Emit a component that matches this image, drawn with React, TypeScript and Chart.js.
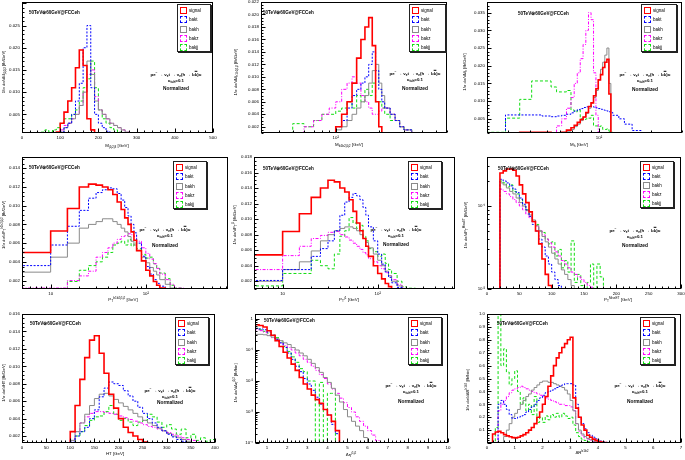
import React, { useEffect, useRef } from 'react';
import { Chart, registerables } from 'chart.js';

Chart.register(...registerables);

// ------------------------------------------------------------------ data
const SERIES_NAMES = ['signal', 'bakt', 'bakh', 'bakz', 'bakjj'];

// Panel 1 : M_{j1j2j3}
const mjjjEdges = [40, 50, 60, 70, 80, 90, 100, 110, 120, 130, 140, 150, 160, 170, 180, 190, 200, 210, 220, 230, 240, 250, 260, 270, 280, 290, 300];
const mjjjSignal = [0, 0, 0, 0, 0, 0.001, 0.003, 0.0055, 0.008, 0.011, 0.0155, 0.0195, 0.016, 0.004, 0.0015, 0.0008, 0.0003, 0, 0, 0, 0, 0, 0, 0, 0, 0];
const mjjjBakt = [0, 0, 0, 0, 0, 0.0003, 0.001, 0.002, 0.003, 0.005, 0.008, 0.012, 0.02, 0.025, 0.011, 0.005, 0.003, 0.002, 0.0012, 0.0007, 0.0003, 0, 0, 0, 0, 0];
const mjjjBakh = [0, 0, 0, 0, 0, 0.0005, 0.001, 0.002, 0.003, 0.004, 0.005, 0.007, 0.01, 0.017, 0.014, 0.008, 0.006, 0.005, 0.004, 0.003, 0.0025, 0.002, 0.0015, 0.001, 0.0007, 0.0004];
const mjjjBakz = [0, 0, 0, 0, 0, 0.0005, 0.0015, 0.0025, 0.003, 0.004, 0.005, 0.007, 0.01, 0.014, 0.015, 0.009, 0.006, 0.005, 0.004, 0.003, 0.0025, 0.002, 0.0015, 0.001, 0.0006, 0.0003];
const mjjjBakjj = [0, 0.001, 0.0015, 0.001, 0.0015, 0.002, 0.003, 0.004, 0.004, 0.005, 0.006, 0.008, 0.011, 0.013, 0.017, 0.011, 0.006, 0.004, 0.003, 0.002, 0.0015, 0.001, 0.0008, 0.0005, 0.0003, 0];

// Panel 2 : M_{b1b2j1j2}
const mbbjjEdges = [40, 50, 60, 70, 80, 90, 100, 110, 120, 130, 140, 150, 160, 170, 180, 190, 200, 210, 220, 240, 260, 280, 300, 340, 380, 420];
const mbbjjSignal = [0, 0, 0, 0, 0, 0.001, 0.002, 0.004, 0.006, 0.009, 0.013, 0.016, 0.018, 0.0195, 0.015, 0.006, 0.002, 0.0005, 0, 0, 0, 0, 0, 0, 0];
const mbbjjBakt = [0, 0, 0, 0, 0, 0.001, 0.002, 0.003, 0.005, 0.007, 0.008, 0.009, 0.01, 0.012, 0.014, 0.011, 0.008, 0.006, 0.005, 0.004, 0.003, 0.002, 0.0015, 0.001, 0.0005];
const mbbjjBakh = [0, 0, 0, 0, 0, 0.0008, 0.0015, 0.002, 0.003, 0.004, 0.005, 0.006, 0.007, 0.009, 0.011, 0.012, 0.009, 0.007, 0.005, 0.004, 0.003, 0.002, 0.0015, 0.001, 0.0005];
const mbbjjBakz = [0, 0.001, 0.002, 0.003, 0.004, 0.005, 0.006, 0.008, 0.009, 0.01, 0.009, 0.007, 0.006, 0.005, 0.004, 0.004, 0.0045, 0.005, 0.005, 0.004, 0.003, 0.002, 0.0015, 0.001, 0.0005];
const mbbjjBakjj = [0, 0.0025, 0.002, 0.003, 0.004, 0.004, 0.0045, 0.005, 0.006, 0.005, 0.007, 0.006, 0.008, 0.007, 0.009, 0.006, 0.006, 0.005, 0.004, 0.003, 0.003, 0.002, 0.0015, 0.001, 0.0005];

// Panel 3 : M_h
const mhEdges = [23, 29, 35, 41, 47, 53, 57, 61, 65, 69, 72, 75, 78, 81, 84, 87, 90, 93, 96, 99, 102, 105, 108, 111, 114, 117, 120, 130, 140, 155, 175, 200, 250];
const mhSignal = [0, 0, 0.0012, 0.0012, 0.0012, 0.001, 0.001, 0.0012, 0.0018, 0.0025, 0.0032, 0.004, 0.0048, 0.0055, 0.0068, 0.0085, 0.0095, 0.0115, 0.0135, 0.016, 0.0175, 0.0195, 0.021, 0.0218, 0.012, 0, 0, 0, 0, 0, 0, 0];
const mhBakt = [0, 0.0061, 0.0061, 0.0061, 0.0058, 0.0056, 0.0058, 0.006, 0.0063, 0.0067, 0.0072, 0.0076, 0.0079, 0.0082, 0.0084, 0.0085, 0.0085, 0.0083, 0.0081, 0.0079, 0.0077, 0.0075, 0.0074, 0.0072, 0.007, 0.0068, 0.006, 0.005, 0.0035, 0.0017, 0, 0];
const mhBakh = [0, 0, 0.001, 0.001, 0.001, 0.0008, 0.001, 0.0012, 0.0015, 0.002, 0.0028, 0.0035, 0.0045, 0.0055, 0.0065, 0.008, 0.0095, 0.011, 0.013, 0.016, 0.019, 0.021, 0.023, 0.025, 0.015, 0, 0, 0, 0, 0, 0, 0];
const mhBakz = [0, 0, 0, 0, 0, 0.001, 0.003, 0.005, 0.008, 0.011, 0.015, 0.018, 0.022, 0.026, 0.03, 0.035, 0.033, 0.018, 0.006, 0.001, 0, 0, 0, 0, 0, 0, 0, 0, 0, 0, 0, 0];
const mhBakjj = [0.0012, 0.0052, 0.0105, 0.0157, 0.0157, 0.014, 0.0126, 0.0126, 0.013, 0.0075, 0.007, 0.0075, 0.005, 0.0048, 0.005, 0.0052, 0.006, 0.003, 0.003, 0.0028, 0.003, 0.002, 0.002, 0.0022, 0.0015, 0.0012, 0.001, 0, 0, 0, 0, 0];

// Panels 4 and 5 : transverse momenta (shared binning)
const ptEdges = [5, 10, 15, 20, 25, 30, 35, 40, 45, 50, 55, 60, 65, 70, 75, 80, 90, 100, 110, 120, 130, 140, 160, 180, 200, 250, 300];
const ptbbjjSignal = [0.005, 0.0073, 0.0097, 0.012, 0.0123, 0.0122, 0.012, 0.0117, 0.0112, 0.0104, 0.0096, 0.0087, 0.008, 0.0072, 0.0063, 0.0052, 0.0041, 0.0031, 0.0025, 0.0019, 0.0015, 0.0012, 0, 0, 0, 0];
const ptbbjjBakt = [0.0036, 0.0058, 0.0078, 0.0095, 0.0108, 0.0114, 0.0117, 0.0119, 0.0118, 0.0113, 0.0106, 0.0098, 0.0089, 0.008, 0.0071, 0.006, 0.0046, 0.0035, 0.0027, 0.0021, 0.0017, 0.0014, 0, 0, 0, 0];
const ptbbjjBakh = [0.0029, 0.0045, 0.006, 0.0076, 0.008, 0.0083, 0.0086, 0.0086, 0.0083, 0.008, 0.0076, 0.0072, 0.0067, 0.0062, 0.0058, 0.0052, 0.0045, 0.0039, 0.0034, 0.003, 0.0026, 0.0021, 0.0016, 0.0012, 0, 0];
const ptbbjjBakz = [0.0012, 0.0012, 0.002, 0.0025, 0.003, 0.0045, 0.005, 0.0055, 0.006, 0.0064, 0.0067, 0.0068, 0.007, 0.0069, 0.0067, 0.0062, 0.0055, 0.0049, 0.0043, 0.0038, 0.0033, 0.0027, 0.0021, 0.0016, 0.0012, 0];
const ptbbjjBakjj = [0.0011, 0.0011, 0.0019, 0.0031, 0.0036, 0.004, 0.0045, 0.005, 0.0058, 0.006, 0.0062, 0.0058, 0.0064, 0.0057, 0.006, 0.0054, 0.0048, 0.0044, 0.0045, 0.0038, 0.0033, 0.0028, 0.0022, 0.0015, 0.0012, 0];

const ptj1Signal = [0.0054, 0.0084, 0.0107, 0.0128, 0.014, 0.015, 0.0148, 0.014, 0.0135, 0.0125, 0.011, 0.0095, 0.0085, 0.0075, 0.0065, 0.0052, 0.004, 0.003, 0.0023, 0.0017, 0.0013, 0.001, 0, 0, 0, 0];
const ptj1Bakt = [0.0021, 0.0035, 0.0035, 0.0052, 0.0062, 0.0072, 0.0085, 0.0105, 0.0122, 0.0128, 0.0133, 0.013, 0.0125, 0.0115, 0.0105, 0.009, 0.0072, 0.0055, 0.0042, 0.0032, 0.0025, 0.0018, 0.0012, 0, 0, 0];
const ptj1Bakh = [0.002, 0.0035, 0.0045, 0.0059, 0.0072, 0.008, 0.0085, 0.0088, 0.009, 0.009, 0.0088, 0.0085, 0.008, 0.0075, 0.007, 0.0063, 0.0055, 0.0047, 0.004, 0.0033, 0.0027, 0.002, 0.0014, 0.001, 0, 0];
const ptj1Bakz = [0.0035, 0.0053, 0.0065, 0.0075, 0.0079, 0.0083, 0.0084, 0.008, 0.0077, 0.0073, 0.0069, 0.0065, 0.0061, 0.0057, 0.0054, 0.0049, 0.0045, 0.004, 0.0036, 0.0031, 0.0027, 0.0022, 0.0016, 0.0011, 0, 0];
const ptj1Bakjj = [0.0014, 0.003, 0.003, 0.0047, 0.004, 0.0036, 0.0055, 0.0078, 0.0085, 0.0102, 0.0095, 0.0088, 0.0092, 0.0078, 0.0072, 0.0062, 0.0058, 0.0052, 0.0055, 0.0043, 0.0035, 0.003, 0.002, 0.0013, 0.0011, 0];

// Panel 6 : missing transverse energy
const ptmissEdges = [20, 25, 30, 35, 40, 45, 50, 55, 60, 65, 70, 75, 80, 85, 90, 95, 100, 105, 110, 115, 120, 125, 130, 135, 140, 145, 150, 155, 160, 165, 170, 175, 180, 185];
const ptmissSignal = [0.25, 0.265, 0.28, 0.28, 0.27, 0.23, 0.18, 0.14, 0.11, 0.085, 0.065, 0.05, 0.035, 0.023, 0.015, 0.011, 0, 0, 0, 0, 0, 0, 0, 0, 0, 0, 0, 0, 0, 0, 0, 0, 0];
const ptmissBakt = [0.21, 0.2, 0.19, 0.175, 0.16, 0.145, 0.125, 0.105, 0.09, 0.075, 0.06, 0.05, 0.04, 0.032, 0.025, 0.02, 0.016, 0.013, 0.011, 0.01, 0, 0, 0, 0, 0, 0, 0, 0, 0, 0, 0, 0, 0];
const ptmissBakh = [0.19, 0.18, 0.165, 0.15, 0.14, 0.125, 0.11, 0.1, 0.088, 0.078, 0.068, 0.058, 0.05, 0.043, 0.037, 0.032, 0.027, 0.023, 0.02, 0.017, 0.015, 0.013, 0.011, 0.01, 0.009, 0, 0, 0, 0, 0, 0, 0, 0];
const ptmissBakz = [0.16, 0.15, 0.14, 0.13, 0.12, 0.11, 0.1, 0.09, 0.08, 0.072, 0.064, 0.057, 0.051, 0.045, 0.04, 0.036, 0.032, 0.028, 0.025, 0.022, 0.02, 0.018, 0.016, 0.015, 0.014, 0.013, 0.012, 0.011, 0.0105, 0.01, 0.01, 0.01, 0];
const ptmissBakjj = [0.2, 0.19, 0.17, 0.18, 0.15, 0.14, 0.12, 0.1, 0.09, 0.08, 0.065, 0.06, 0.05, 0.048, 0.04, 0.035, 0.037, 0.025, 0.03, 0.018, 0.022, 0.016, 0.038, 0.012, 0.015, 0.011, 0.01, 0.012, 0.02, 0.01, 0.02, 0.014, 0];

// Panel 7 : HT
const htEdges = [90, 100, 110, 120, 130, 140, 150, 160, 170, 180, 190, 200, 210, 220, 230, 240, 250, 260, 270, 280, 290, 300, 310, 320, 330, 340, 350, 360, 370, 380, 390, 400];
const htSignal = [0.0012, 0.0025, 0.0055, 0.0085, 0.011, 0.013, 0.0135, 0.0115, 0.0092, 0.0068, 0.0052, 0.004, 0.003, 0.0024, 0.002, 0.0016, 0.0013, 0.0011, 0, 0, 0, 0, 0, 0, 0, 0, 0, 0, 0, 0, 0];
const htBakt = [0, 0.0013, 0.002, 0.0025, 0.003, 0.004, 0.005, 0.0065, 0.0075, 0.0082, 0.008, 0.0078, 0.0072, 0.0066, 0.006, 0.0053, 0.0046, 0.004, 0.0035, 0.003, 0.0026, 0.0022, 0.0019, 0.0016, 0.0014, 0.0012, 0, 0, 0, 0, 0];
const htBakh = [0, 0.0015, 0.0025, 0.0035, 0.0045, 0.0055, 0.0063, 0.0068, 0.0069, 0.0066, 0.0062, 0.0058, 0.0054, 0.005, 0.0046, 0.0042, 0.0038, 0.0035, 0.0032, 0.0029, 0.0026, 0.0023, 0.002, 0.0018, 0.0016, 0.0014, 0.0012, 0, 0, 0, 0];
const htBakz = [0, 0.0015, 0.0025, 0.0035, 0.0042, 0.0046, 0.0048, 0.0048, 0.0047, 0.0046, 0.0045, 0.0043, 0.0041, 0.0039, 0.0037, 0.0035, 0.0033, 0.0031, 0.003, 0.0028, 0.0026, 0.0024, 0.0022, 0.002, 0.0018, 0.0016, 0.0015, 0.0013, 0.0012, 0.0012, 0.0011];
const htBakjj = [0, 0.0012, 0.002, 0.0025, 0.0032, 0.0038, 0.0042, 0.0043, 0.0048, 0.0055, 0.0045, 0.0038, 0.004, 0.0036, 0.0032, 0.0036, 0.0038, 0.0045, 0.0042, 0.0036, 0.003, 0.0033, 0.0028, 0.0022, 0.0028, 0.0018, 0.0022, 0.0015, 0.0018, 0.0014, 0.0016];

// Panel 8 : Delta eta
const detaEdges = [0.4, 0.6, 0.8, 1.0, 1.2, 1.4, 1.6, 1.8, 2.0, 2.2, 2.4, 2.6, 2.8, 3.0, 3.2, 3.4, 3.6, 3.8, 4.0, 4.2, 4.4, 4.6, 4.8, 5.0, 5.2, 5.4, 5.6, 5.8, 6.0, 6.2, 6.4, 6.6, 6.8];
const detaSignal = [0.65, 0.62, 0.55, 0.42, 0.3, 0.2, 0.13, 0.085, 0.055, 0.035, 0.022, 0.013, 0.008, 0.0055, 0.0035, 0.0025, 0.0019, 0.0012, 0.0008, 0.0005, 0.00025, 0, 0, 0, 0, 0, 0, 0, 0, 0, 0, 0];
const detaBakt = [0.5, 0.48, 0.45, 0.38, 0.3, 0.22, 0.17, 0.12, 0.08, 0.05, 0.03, 0.02, 0.012, 0.008, 0.005, 0.003, 0.0018, 0.0012, 0.0008, 0.0004, 0.0002, 0, 0, 0, 0, 0, 0, 0, 0, 0, 0, 0];
const detaBakh = [0.32, 0.32, 0.31, 0.29, 0.26, 0.23, 0.2, 0.17, 0.15, 0.12, 0.1, 0.08, 0.065, 0.05, 0.037, 0.027, 0.019, 0.013, 0.009, 0.0058, 0.0035, 0.0021, 0.0012, 0.0007, 0.0005, 0.00035, 0.00025, 0.00015, 0, 0, 0, 0];
const detaBakz = [0.45, 0.42, 0.38, 0.3, 0.25, 0.2, 0.17, 0.14, 0.12, 0.1, 0.08, 0.065, 0.05, 0.04, 0.03, 0.022, 0.016, 0.012, 0.008, 0.0055, 0.004, 0.0028, 0.002, 0.0014, 0.001, 0.0007, 0.0005, 0.00035, 0.00025, 0.00018, 0.00012, 0];
const detaBakjj = [0.5, 0.45, 0.4, 0.35, 0.3, 0.25, 0.18, 0.13, 0.09, 0.06, 0.04, 0.025, 0.02, 0.01, 0.01, 0, 0.009, 0, 0.004, 0.004, 0, 0, 0, 0, 0, 0, 0, 0, 0, 0, 0, 0];

// Panel 9 : Delta R
const drEdges = [0.2, 0.3, 0.4, 0.5, 0.6, 0.7, 0.8, 0.9, 1.0, 1.1, 1.2, 1.3, 1.4, 1.5, 1.6, 1.7, 1.8, 1.9, 2.0, 2.1, 2.2, 2.3, 2.4, 2.5, 2.6, 2.7, 2.8, 2.9, 3.0, 3.1, 3.2, 3.3, 3.4, 3.5, 3.6, 3.7, 3.8, 3.9, 4.0, 4.1, 4.2, 4.3, 4.4, 4.5];
const drSignal = [0.07, 0.085, 0.09, 0.08, 0.065, 0.055, 0.048, 0.042, 0.04, 0.045, 0.055, 0.065, 0.08, 0.1, 0.12, 0.15, 0.2, 0.24, 0.3, 0.36, 0.44, 0.52, 0.6, 0.66, 0.7, 0.74, 0.77, 0.8, 0.82, 0.35, 0.27, 0.2, 0.14, 0.1, 0.06, 0.045, 0.03, 0.02, 0.012, 0.007, 0.004, 0.002, 0];
const drBakt = [0, 0, 0.3, 0.33, 0.3, 0.26, 0.22, 0.19, 0.19, 0.2, 0.21, 0.22, 0.24, 0.26, 0.28, 0.3, 0.33, 0.35, 0.37, 0.39, 0.4, 0.41, 0.42, 0.43, 0.44, 0.45, 0.46, 0.46, 0.46, 0.45, 0.3, 0.2, 0.15, 0.11, 0.08, 0.06, 0.045, 0.032, 0.022, 0.014, 0.009, 0.005, 0.003];
const drBakh = [0, 0, 0, 0, 0.05, 0.1, 0.15, 0.2, 0.23, 0.26, 0.3, 0.33, 0.36, 0.38, 0.41, 0.43, 0.45, 0.47, 0.48, 0.48, 0.47, 0.47, 0.46, 0.45, 0.44, 0.43, 0.41, 0.38, 0.33, 0.25, 0.15, 0.1, 0.07, 0.05, 0.035, 0.025, 0.015, 0.01, 0.006, 0.004, 0.002, 0, 0];
const drBakz = [0, 0, 0.25, 0.3, 0.33, 0.36, 0.39, 0.41, 0.42, 0.43, 0.44, 0.43, 0.42, 0.41, 0.4, 0.39, 0.38, 0.37, 0.36, 0.35, 0.34, 0.33, 0.32, 0.31, 0.3, 0.3, 0.29, 0.29, 0.28, 0.25, 0.15, 0.09, 0.06, 0.04, 0.03, 0.02, 0.012, 0.008, 0.004, 0, 0, 0, 0];
const drBakjj = [0, 0.12, 1.05, 0.6, 0.73, 0.55, 0.45, 0.5, 0.56, 0.4, 0.3, 0.35, 0.25, 0.3, 0.22, 0.36, 0.16, 0.2, 0.16, 0.21, 0.18, 0.22, 0.2, 0.23, 0.2, 0.23, 0.21, 0.19, 0.2, 0.14, 0.08, 0.05, 0.03, 0.02, 0.01, 0, 0, 0, 0, 0, 0, 0, 0];

// ------------------------------------------------------------------ styles
const FONT = "'Liberation Sans', Arial, Helvetica, sans-serif";
const COLORS = ['#ff0000', '#0000ff', '#8a8a8a', '#ff00ff', '#11dd11'];
const WIDTHS = [1.6, 1, 1, 1, 1];
const DASHES: number[][] = [[], [2, 1.5], [], [3, 1.5, 1, 1.5], [3, 2]];

const PAD_L = 26, PAD_T = 4, PAD_R = 4, PAD_B = 12;

const SUP: Record<string, string> = { '-': '⁻', '0': '⁰', '1': '¹', '2': '²', '3': '³', '4': '⁴', '5': '⁵' };
function powLabel(v: number): string {
  const e = Math.round(Math.log10(v));
  if (Math.abs(Math.log10(v) - e) > 1e-6) return '';
  if (e === 0) return '1';
  if (e === 1) return '10';
  return '10' + String(e).split('').map((c) => SUP[c] || c).join('');
}
function isMult(v: number, step: number) {
  const r = v / step;
  return Math.abs(r - Math.round(r)) < 1e-6;
}

type Axis = { type: 'linear' | 'logarithmic'; min: number; max: number; step?: number; div?: number; dec?: number; hideZero?: boolean };

function labelFor(ax: Axis, v: number): string {
  if (ax.type === 'logarithmic') return powLabel(v);
  if (!isMult(v, ax.step!)) return '';
  if (ax.hideZero && Math.abs(v) < 1e-12) return '';
  return ax.dec ? v.toFixed(ax.dec) : String(Math.round(v));
}

function tickList(ax: Axis) {
  const out: { v: number; major: boolean }[] = [];
  if (ax.type === 'logarithmic') {
    const d0 = Math.floor(Math.log10(ax.min));
    const d1 = Math.ceil(Math.log10(ax.max));
    for (let d = d0; d <= d1; d++) {
      for (let k = 1; k <= 9; k++) {
        const v = k * Math.pow(10, d);
        if (v >= ax.min * (1 - 1e-9) && v <= ax.max * (1 + 1e-9)) out.push({ v, major: k === 1 });
      }
    }
  } else {
    const div = ax.div || 5;
    const ms = ax.step! / div;
    const k0 = Math.ceil(ax.min / ms - 1e-6);
    const k1 = Math.floor(ax.max / ms + 1e-6);
    for (let k = k0; k <= k1; k++) out.push({ v: k * ms, major: k % div === 0 });
  }
  return out;
}

function histPoints(edges: number[], values: number[], floor: number, xMin: number, xMax: number) {
  const pts: { x: number; y: number }[] = [{ x: xMin, y: floor }];
  values.forEach((v, i) => pts.push({ x: edges[i], y: Math.max(v, floor) }));
  pts.push({ x: edges[values.length], y: floor });
  pts.push({ x: xMax, y: floor });
  return pts;
}

function makeFramePlugin(xa: Axis, ya: Axis) {
  return {
    id: 'rootFrame',
    afterDraw(chart: any) {
      const { ctx, chartArea: a } = chart;
      const xs = chart.scales.x;
      const ys = chart.scales.y;
      ctx.save();
      ctx.strokeStyle = '#000';
      ctx.lineWidth = 1;
      ctx.setLineDash([]);
      const L = Math.round(a.left) + 0.5, T = Math.round(a.top) + 0.5;
      const R = Math.round(a.right) - 0.5, B = Math.round(a.bottom) - 0.5;
      ctx.strokeRect(L, T, R - L, B - T);
      ctx.beginPath();
      for (const t of tickList(xa)) {
        const px = Math.round(xs.getPixelForValue(t.v)) + 0.5;
        ctx.moveTo(px, B);
        ctx.lineTo(px, B - (t.major ? 4 : 2));
      }
      for (const t of tickList(ya)) {
        const py = Math.round(ys.getPixelForValue(t.v)) + 0.5;
        ctx.moveTo(L, py);
        ctx.lineTo(L + (t.major ? 4 : 2), py);
      }
      ctx.stroke();
      ctx.restore();
    },
  };
}

// ------------------------------------------------------------------ small text helpers
const Sup = ({ children }: any) => <span style={{ fontSize: '0.72em', verticalAlign: '0.55em', lineHeight: 0 }}>{children}</span>;
const Sub = ({ children }: any) => <span style={{ fontSize: '0.72em', verticalAlign: '-0.3em', lineHeight: 0 }}>{children}</span>;

type PanelCfg = {
  frame: [number, number, number, number];
  x: Axis;
  y: Axis;
  edges: number[];
  series: number[][];
  xTitle: any;
  xTitlePos: [number, number];
  yTitle: any;
  yTitlePos: [number, number];
  legend: [number, number, number, number];
  tag: [number, number];
  note: [number, number, number, number];
};

const PANELS: PanelCfg[] = [
  {
    frame: [22, 2, 213, 133],
    x: { type: 'linear', min: 0, max: 500, step: 100, div: 5 },
    y: { type: 'linear', min: 0.0008, max: 0.0303, step: 0.005, div: 5, dec: 3 },
    edges: mjjjEdges,
    series: [mjjjSignal, mjjjBakt, mjjjBakh, mjjjBakz, mjjjBakjj],
    xTitle: <>M<Sub>j1j2j3</Sub> [GeV]</>,
    xTitlePos: [117, 146],
    yTitle: <>1/σ dσ/dM<Sub>j1j2j3</Sub> [fb/GeV]</>,
    yTitlePos: [4, 72],
    legend: [177, 4, 34, 48],
    tag: [29, 12.5],
    note: [176, 75, 80.5, 89],
  },
  {
    frame: [261, 2, 447, 133],
    x: { type: 'logarithmic', min: 30, max: 600 },
    y: { type: 'linear', min: 0.001, max: 0.022, step: 0.002, div: 4, dec: 3 },
    edges: mbbjjEdges,
    series: [mbbjjSignal, mbbjjBakt, mbbjjBakh, mbbjjBakz, mbbjjBakjj],
    xTitle: <>M<Sub>b1b2j1j2</Sub> [GeV]</>,
    xTitlePos: [349, 145],
    yTitle: <>1/σ dσ/dM<Sub>b1b2j1j2</Sub> [fb/GeV]</>,
    yTitlePos: [236, 72],
    legend: [409, 4, 37, 48],
    tag: [263, 12.5],
    note: [415, 74, 80, 89],
  },
  {
    frame: [487, 2, 682, 133],
    x: { type: 'logarithmic', min: 22.7, max: 300 },
    y: { type: 'linear', min: 0.001, max: 0.038, step: 0.005, div: 5, dec: 3 },
    edges: mhEdges,
    series: [mhSignal, mhBakt, mhBakh, mhBakz, mhBakjj],
    xTitle: <>M<Sub>h</Sub> [GeV]</>,
    xTitlePos: [579, 145],
    yTitle: <>1/σ dσ/dM<Sub>h</Sub> [fb/GeV]</>,
    yTitlePos: [465, 72],
    legend: [641, 4, 36, 48],
    tag: [518, 14],
    note: [645, 75, 81, 90],
  },
  {
    frame: [22, 157, 228, 289],
    x: { type: 'logarithmic', min: 5, max: 730 },
    y: { type: 'linear', min: 0.0011, max: 0.0152, step: 0.002, div: 4, dec: 3 },
    edges: ptEdges,
    series: [ptbbjjSignal, ptbbjjBakt, ptbbjjBakh, ptbbjjBakz, ptbbjjBakjj],
    xTitle: <>P<Sub>T</Sub><Sup>b1b2j1j2</Sup> [GeV]</>,
    xTitlePos: [123, 300],
    yTitle: <>1/σ dσ/dP<Sub>T</Sub><Sup>b1b2j1j2</Sup> [fb/GeV]</>,
    yTitlePos: [4, 225],
    legend: [173, 161, 34, 48],
    tag: [29, 168],
    note: [165, 230, 236, 246],
  },
  {
    frame: [254, 157, 455, 289],
    x: { type: 'logarithmic', min: 5, max: 650 },
    y: { type: 'linear', min: 0.001, max: 0.018, step: 0.002, div: 4, dec: 3 },
    edges: ptEdges,
    series: [ptj1Signal, ptj1Bakt, ptj1Bakh, ptj1Bakz, ptj1Bakjj],
    xTitle: <>P<Sub>T</Sub><Sup>j1</Sup> [GeV]</>,
    xTitlePos: [349, 300],
    yTitle: <>1/σ dσ/dP<Sub>T</Sub><Sup>j1</Sup> [fb/GeV]</>,
    yTitlePos: [235, 225],
    legend: [408, 161, 34, 48],
    tag: [263, 169],
    note: [396, 230, 236, 245],
  },
  {
    frame: [487, 157, 681, 289],
    x: { type: 'linear', min: 0, max: 300, step: 50, div: 5 },
    y: { type: 'logarithmic', min: 0.01, max: 0.39 },
    edges: ptmissEdges,
    series: [ptmissSignal, ptmissBakt, ptmissBakh, ptmissBakz, ptmissBakjj],
    xTitle: <>P<Sub>T</Sub><Sup>MissET</Sup> [GeV]</>,
    xTitlePos: [618, 300],
    yTitle: <>1/σ dσ/dP<Sub>T</Sub><Sup>MissET</Sup> [fb/GeV]</>,
    yTitlePos: [466, 225],
    legend: [640, 161, 34, 47],
    tag: [498, 169],
    note: [635, 231, 236.5, 246],
  },
  {
    frame: [22, 314, 215, 443],
    x: { type: 'linear', min: 0, max: 400, step: 50, div: 5 },
    y: { type: 'linear', min: 0.0012, max: 0.016, step: 0.002, div: 4, dec: 3 },
    edges: htEdges,
    series: [htSignal, htBakt, htBakh, htBakz, htBakjj],
    xTitle: <>HT [GeV]</>,
    xTitlePos: [115, 454],
    yTitle: <>1/σ dσ/dHT [fb/GeV]</>,
    yTitlePos: [4, 383],
    legend: [175, 317, 34, 48],
    tag: [30, 324],
    note: [170, 391, 397, 403],
  },
  {
    frame: [255, 314, 448, 443],
    x: { type: 'linear', min: 0.4, max: 10, step: 1, div: 5 },
    y: { type: 'logarithmic', min: 0.0001, max: 1.45 },
    edges: detaEdges,
    series: [detaSignal, detaBakt, detaBakh, detaBakz, detaBakjj],
    xTitle: <>Δη<Sup>j1j2</Sup></>,
    xTitlePos: [351, 455],
    yTitle: <>1/σ dσ/dΔη<Sup>j1j2</Sup> [fb/bin]</>,
    yTitlePos: [236, 383],
    legend: [408, 317, 34, 48],
    tag: [264, 321],
    note: [411, 386, 392, 402],
  },
  {
    frame: [487, 314, 681, 443],
    x: { type: 'linear', min: 0, max: 7, step: 1, div: 5 },
    y: { type: 'linear', min: 0, max: 1.0, step: 0.1, div: 5, dec: 1, hideZero: true },
    edges: drEdges,
    series: [drSignal, drBakt, drBakh, drBakz, drBakjj],
    xTitle: <>ΔR<Sup>b1b2</Sup></>,
    xTitlePos: [582, 453],
    yTitle: <>1/σ dσ/dΔR<Sup>b1b2</Sup> [fb/bin]</>,
    yTitlePos: [468, 390],
    legend: [640, 317, 35, 48],
    tag: [497, 324],
    note: [640, 386, 392, 402],
  },
];

// ------------------------------------------------------------------ components
function HistPanel({ cfg }: { cfg: PanelCfg }) {
  const ref = useRef<HTMLCanvasElement>(null);
  const [L, T, R, B] = cfg.frame;
  const cw = R - L + PAD_L + PAD_R;
  const ch = B - T + PAD_T + PAD_B;

  useEffect(() => {
    const xa = cfg.x, ya = cfg.y;
    const tickFont = { size: 4.4, family: FONT };
    const chart = new Chart(ref.current as HTMLCanvasElement, {
      type: 'line',
      data: {
        datasets: cfg.series.map((vals, i) => ({
          label: SERIES_NAMES[i],
          data: histPoints(cfg.edges, vals, ya.min, xa.min, xa.max),
          stepped: true,
          borderColor: COLORS[i],
          borderWidth: WIDTHS[i],
          borderDash: DASHES[i],
          borderCapStyle: 'butt',
          borderJoinStyle: 'miter',
          pointRadius: 0,
          pointHoverRadius: 0,
          fill: false,
          tension: 0,
        })),
      },
      options: {
        animation: false,
        responsive: false,
        devicePixelRatio: 1,
        events: [],
        layout: { padding: { top: PAD_T, right: PAD_R, left: 0, bottom: 0 } },
        plugins: { legend: { display: false }, tooltip: { enabled: false } },
        scales: {
          x: {
            type: xa.type,
            min: xa.min,
            max: xa.max,
            grid: { display: false, drawTicks: false, tickLength: 0 },
            border: { display: false },
            ticks: {
              stepSize: xa.step,
              autoSkip: false,
              maxRotation: 0,
              minRotation: 0,
              padding: 2,
              color: '#000',
              font: tickFont,
              callback: (v: any) => labelFor(xa, Number(v)),
            },
            afterFit: (s: any) => {
              s.height = PAD_B;
              s.paddingLeft = 0;
              s.paddingRight = 0;
            },
          },
          y: {
            type: ya.type,
            min: ya.min,
            max: ya.max,
            grid: { display: false, drawTicks: false, tickLength: 0 },
            border: { display: false },
            ticks: {
              stepSize: ya.step,
              autoSkip: false,
              padding: 2,
              color: '#000',
              font: tickFont,
              callback: (v: any) => labelFor(ya, Number(v)),
            },
            afterFit: (s: any) => {
              s.width = PAD_L;
              s.paddingTop = 0;
              s.paddingBottom = 0;
            },
          },
        },
      } as any,
      plugins: [makeFramePlugin(xa, ya)],
    });
    return () => chart.destroy();
  }, [cfg]);

  return (
    <canvas
      ref={ref}
      width={cw}
      height={ch}
      style={{ position: 'absolute', left: L - PAD_L, top: T - PAD_T, width: cw, height: ch }}
    />
  );
}

function Legend({ box }: { box: [number, number, number, number] }) {
  const [l, t, w, h] = box;
  const rowH = (h - 2) / 5;
  return (
    <div
      style={{
        position: 'absolute', left: l, top: t, width: w, height: h, boxSizing: 'border-box',
        border: '1px solid #222', boxShadow: '1px 1px 0 #222', background: '#fff',
      }}
    >
      {SERIES_NAMES.map((n, i) => (
        <div key={n} style={{ position: 'absolute', left: 2, top: 1 + i * rowH + rowH / 2 - 3.5, height: 7, display: 'flex', alignItems: 'center' }}>
          <span
            style={{
              display: 'inline-block', width: 7, height: 7, boxSizing: 'border-box',
              border: `${i === 0 ? 1.8 : 1}px ${i === 0 || i === 2 ? 'solid' : 'dashed'} ${COLORS[i]}`,
            }}
          />
          <span style={{ marginLeft: 2, fontSize: 4.5, lineHeight: '7px', fontFamily: FONT }}>{n}</span>
        </div>
      ))}
    </div>
  );
}

function Overlays({ cfg }: { cfg: PanelCfg }) {
  const [cx, y1, y2, y3] = cfg.note;
  const lineStyle = (y: number, size: number): any => ({
    position: 'absolute', left: cx, top: y, transform: 'translate(-50%,-50%)',
    fontSize: size, fontWeight: 'bold', whiteSpace: 'nowrap', lineHeight: 1, fontFamily: FONT,
  });
  return (
    <>
      <div style={{ position: 'absolute', left: cfg.xTitlePos[0], top: cfg.xTitlePos[1], transform: 'translate(-50%,-50%)', fontSize: 4.4, whiteSpace: 'nowrap', lineHeight: 1, fontFamily: FONT }}>
        {cfg.xTitle}
      </div>
      <div style={{ position: 'absolute', left: cfg.yTitlePos[0], top: cfg.yTitlePos[1], transform: 'translate(-50%,-50%) rotate(-90deg)', fontSize: 4.2, whiteSpace: 'nowrap', lineHeight: 1, fontFamily: FONT }}>
        {cfg.yTitle}
      </div>
      <div style={{ position: 'absolute', left: cfg.tag[0], top: cfg.tag[1], transform: 'translateY(-50%)', fontSize: 4.6, fontWeight: 'bold', whiteSpace: 'nowrap', lineHeight: 1, fontFamily: FONT }}>
        50TeV⊗60GeV@FCCeh
      </div>
      <div style={lineStyle(y1, 4.4)}>
        pe<Sup>−</Sup> → ν<Sub>e</Sub>t → ν<Sub>e</Sub>(h → b<span style={{ textDecoration: 'overline' }}>b</span>)u
      </div>
      <div style={lineStyle(y2, 4.4)}>
        κ<Sub>tuh</Sub>=0.1
      </div>
      <div style={lineStyle(y3, 4.8)}>Normalized</div>
      <Legend box={cfg.legend} />
    </>
  );
}

export default function App() {
  return (
    <div style={{ position: 'absolute', left: 0, top: 0, width: 685, height: 460, background: '#fff', overflow: 'hidden', fontFamily: FONT, color: '#000' }}>
      {PANELS.map((p, i) => (
        <HistPanel key={'c' + i} cfg={p} />
      ))}
      {PANELS.map((p, i) => (
        <Overlays key={'o' + i} cfg={p} />
      ))}
    </div>
  );
}
